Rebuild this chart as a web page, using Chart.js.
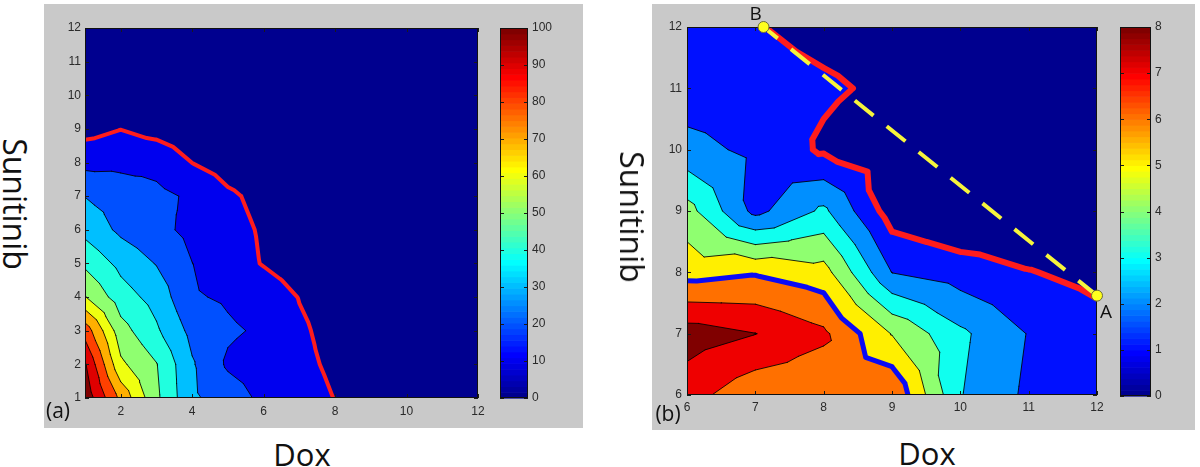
<!DOCTYPE html>
<html>
<head>
<meta charset="utf-8">
<script src="https://cdn.jsdelivr.net/npm/chart.js@4.4.1/dist/chart.umd.min.js"></script>
<style>
body { margin: 0; background: #fff; }
#fig { position: relative; width: 1200px; height: 467px; overflow: hidden; font-family: "Open Sans", sans-serif; }
.panel { position: absolute; background: #c9c9c9; }
canvas { position: absolute; }
.lbl { position: absolute; white-space: nowrap; color: #111; line-height: 1; transform: translate(-50%, -50%); }
.rot { transform: translate(-50%, -50%) rotate(90deg); }
</style>
</head>
<body>
<div id="fig">
  <div class="panel" style="left:44px;top:4px;width:539px;height:424px"></div>
  <div class="panel" style="left:652px;top:4px;width:543px;height:426px"></div>
  <canvas id="plotA" width="450" height="424" style="left:44px;top:4px"></canvas>
  <canvas id="barA" width="85" height="424" style="left:494px;top:4px"></canvas>
  <canvas id="plotB" width="460" height="426" style="left:652px;top:4px"></canvas>
  <canvas id="barB" width="83" height="426" style="left:1112px;top:4px"></canvas>

  <div class="lbl rot" style="left:15px;top:204px;font-size:32px">Sunitinib</div>
  <div class="lbl" style="left:302px;top:454px;font-size:31px">Dox</div>
  <div class="lbl" style="left:58px;top:410px;font-size:21px">(a)</div>
  <div class="lbl rot" style="left:632px;top:217px;font-size:32px">Sunitinib</div>
  <div class="lbl" style="left:927px;top:453px;font-size:31px">Dox</div>
  <div class="lbl" style="left:668px;top:413px;font-size:21px">(b)</div>
</div>

<script>
// ---- panel (a): Dox 1..12 vs Sunitinib 1..12, response in %
const doxA = [1, 2, 3, 4, 5, 6, 7, 8, 9, 10, 11, 12];
const sunA = [1, 2, 3, 4, 5, 6, 7, 8, 9, 10, 11, 12];
// one row per Sunitinib value (1 at the top of the list), one column per Dox value
const respA = [
  [107, 77.5, 52, 31.5, 25.5, 17.5, 13.5, 9.8, 6, 4, 3, 2],
  [101, 62, 50.5, 31, 18.5, 15, 12, 8.5, 5.5, 4, 3, 2],
  [86, 54, 41.5, 27, 21.5, 18.5, 11.3, 7.3, 5, 3.5, 2.5, 2],
  [60.5, 44.5, 36.3, 21, 18.7, 15, 9.7, 6.5, 4.5, 3, 2.5, 2],
  [48, 37.2, 29.5, 20.1, 14, 9.5, 6, 4.5, 3.5, 2.5, 2, 1.5],
  [37, 27.9, 22.7, 17.5, 13, 9, 6, 4.5, 3, 2.5, 2, 1.5],
  [29.8, 26, 22.5, 18.5, 11.5, 7.5, 5, 3.5, 2.5, 2, 1.5, 1],
  [17, 17.3, 16.8, 9.9, 6, 4, 3, 2.5, 2, 1.5, 1, 1],
  [6.7, 9.8, 6.8, 4.5, 3.5, 3, 2.5, 2, 1.5, 1.5, 1, 1],
  [4, 4.5, 4, 3, 2.5, 2, 1.5, 1.5, 1, 1, 1, 1],
  [3, 3, 3, 2.5, 2, 1.5, 1.5, 1, 1, 1, 1, 1],
  [2, 2, 2, 2, 1.5, 1.5, 1, 1, 1, 1, 1, 1]
];
const levelsA = [0, 10, 20, 30, 40, 50, 60, 70, 80, 90, 100];
const xTicksA = [2, 4, 6, 8, 10, 12];
const yTicksA = [1, 2, 3, 4, 5, 6, 7, 8, 9, 10, 11, 12];
const cbTicksA = [0, 10, 20, 30, 40, 50, 60, 70, 80, 90, 100];

// ---- panel (b): Dox 6..12 vs Sunitinib 6..12
const doxB = [6, 7, 8, 9, 10, 11, 12];
const sunB = [6, 7, 8, 9, 10, 11, 12];
const respB = [
  [7.4, 6.3, 6.2, 6.9, 3.05, 1.8, 1.3],
  [8.5, 8.02, 7.2, 4.95, 3.2, 1.95, 1.4],
  [5.6, 5.9, 5.4, 1.98, 1.5, 1.05, 0.7],
  [4.4, 1.7, 3.2, 0.5, 0, 0, 0],
  [2.3, 1.8, 0.85, 0.4, 0, 0, 0],
  [1.5, 1.4, 1.15, 0.8, 0, 0, 0],
  [1.2, 1.05, 0.7, 0.5, 0, 0, 0]
];
const levelsB = [0, 1, 2, 3, 4, 5, 6, 7, 8];
const xTicksB = [6, 7, 8, 9, 10, 11, 12];
const yTicksB = [6, 7, 8, 9, 10, 11, 12];
const cbTicksB = [0, 1, 2, 3, 4, 5, 6, 7, 8];

// points A and B and the straight path between them
const abDox = [12, 7.12];
const abSun = [7.62, 12];
const abNames = ["A", "B"];

const tickFont = { family: "Liberation Sans", size: 12 };
const tickColor = "#2a2a2a";

// matlab jet(64), i = 1..64
function jet64(i) {
  const c = v => Math.max(0, Math.min(1, v));
  const r = c(Math.min((i - 24) / 16, (72 - i) / 16));
  const g = c(Math.min((i - 8) / 16, (56 - i) / 16));
  const b = c(Math.min((i + 8) / 16, (40 - i) / 16));
  return "rgb(" + Math.round(r * 255) + "," + Math.round(g * 255) + "," + Math.round(b * 255) + ")";
}
function colorFor(v, cmin, cmax) {
  const i = Math.min(64, Math.max(1, Math.floor((v - cmin) / (cmax - cmin) * 64) + 1));
  return jet64(i);
}

function triangles(xs, ys, z) {
  const out = [];
  for (let j = 0; j < ys.length - 1; j++) {
    for (let i = 0; i < xs.length - 1; i++) {
      const p = [
        { x: xs[i], y: ys[j], z: z[j][i] },
        { x: xs[i + 1], y: ys[j], z: z[j][i + 1] },
        { x: xs[i + 1], y: ys[j + 1], z: z[j + 1][i + 1] },
        { x: xs[i], y: ys[j + 1], z: z[j + 1][i] }
      ];
      const c = { x: (xs[i] + xs[i + 1]) / 2, y: (ys[j] + ys[j + 1]) / 2,
                  z: (p[0].z + p[1].z + p[2].z + p[3].z) / 4 };
      for (let k = 0; k < 4; k++) out.push([c, p[k], p[(k + 1) % 4]]);
    }
  }
  return out;
}

function lerp(a, b, L) {
  const t = (L - a.z) / (b.z - a.z);
  return { x: a.x + t * (b.x - a.x), y: a.y + t * (b.y - a.y), z: L };
}

function clipAbove(poly, L) {
  const out = [];
  for (let k = 0; k < poly.length; k++) {
    const a = poly[k], b = poly[(k + 1) % poly.length];
    const ina = a.z >= L, inb = b.z >= L;
    if (ina) out.push(a);
    if (ina !== inb) out.push(lerp(a, b, L));
  }
  return out;
}

function crossing(tri, L) {
  const pts = [];
  for (let k = 0; k < 3; k++) {
    const a = tri[k], b = tri[(k + 1) % 3];
    if ((a.z >= L) !== (b.z >= L)) pts.push(lerp(a, b, L));
  }
  return pts.length === 2 ? pts : null;
}

function drawInwardTicks(ctx, area, xs, ys, sx, sy) {
  ctx.strokeStyle = "#1a1a1a";
  ctx.lineWidth = 1;
  ctx.beginPath();
  xs.forEach(v => {
    const px = Math.round(sx.getPixelForValue(v)) + 0.5;
    ctx.moveTo(px, area.bottom); ctx.lineTo(px, area.bottom - 4);
    ctx.moveTo(px, area.top); ctx.lineTo(px, area.top + 4);
  });
  ys.forEach(v => {
    const py = Math.round(sy.getPixelForValue(v)) + 0.5;
    ctx.moveTo(area.left, py); ctx.lineTo(area.left + 4, py);
    ctx.moveTo(area.right, py); ctx.lineTo(area.right - 4, py);
  });
  ctx.stroke();
}

function contourPlugin(spec) {
  const tris = triangles(spec.xs, spec.ys, spec.z);
  return {
    id: "contour",
    beforeDatasetsDraw(chart) {
      const { ctx, chartArea: a, scales: { x, y } } = chart;
      const px = p => x.getPixelForValue(p.x);
      const py = p => y.getPixelForValue(p.y);
      ctx.save();
      ctx.beginPath();
      ctx.rect(a.left, a.top, a.width, a.height);
      ctx.clip();
      spec.levels.forEach(L => {
        ctx.beginPath();
        tris.forEach(t => {
          const poly = clipAbove(t, L);
          if (poly.length < 3) return;
          poly.forEach((p, i) => i ? ctx.lineTo(px(p), py(p)) : ctx.moveTo(px(p), py(p)));
          ctx.closePath();
        });
        ctx.fillStyle = colorFor(L, spec.cmin, spec.cmax);
        ctx.fill();
      });
      ctx.lineCap = "round";
      ctx.lineJoin = "round";
      spec.lines.forEach(ln => {
        ctx.beginPath();
        tris.forEach(t => {
          const s = crossing(t, ln.level);
          if (!s) return;
          ctx.moveTo(px(s[0]), py(s[0]));
          ctx.lineTo(px(s[1]), py(s[1]));
        });
        ctx.strokeStyle = ln.color;
        ctx.lineWidth = ln.width;
        ctx.stroke();
      });
      ctx.restore();
      ctx.save();
      drawInwardTicks(ctx, a, spec.xTicks, spec.yTicks, x, y);
      ctx.strokeStyle = "#111";
      ctx.lineWidth = 1;
      ctx.strokeRect(Math.round(a.left) + 0.5, Math.round(a.top) + 0.5,
                     Math.round(a.width) - 1, Math.round(a.height) - 1);
      ctx.restore();
    }
  };
}

function colorbarPlugin(cmin, cmax, ticks) {
  return {
    id: "colorbar",
    beforeDatasetsDraw(chart) {
      const { ctx, chartArea: a, scales: { y } } = chart;
      ctx.save();
      for (let i = 1; i <= 64; i++) {
        const y0 = y.getPixelForValue(cmin + (i - 1) * (cmax - cmin) / 64);
        const y1 = y.getPixelForValue(cmin + i * (cmax - cmin) / 64);
        ctx.fillStyle = jet64(i);
        ctx.fillRect(a.left, y1, a.width, y0 - y1 + 0.6);
      }
      drawInwardTicks(ctx, a, [], ticks, null, y);
      ctx.strokeStyle = "#111";
      ctx.lineWidth = 1;
      ctx.strokeRect(Math.round(a.left) + 0.5, Math.round(a.top) + 0.5,
                     Math.round(a.width) - 1, Math.round(a.height) - 1);
      ctx.restore();
    }
  };
}

function plotOptions(o) {
  return {
    responsive: false,
    animation: false,
    devicePixelRatio: 1,
    layout: { padding: { left: 0, top: o.padTop, right: o.padRight, bottom: 0 } },
    plugins: { legend: { display: false }, tooltip: { enabled: false } },
    scales: {
      x: {
        type: "linear", min: o.xMin, max: o.xMax,
        grid: { display: false, drawTicks: false }, border: { display: false },
        ticks: { autoSkip: false, maxRotation: 0, padding: o.xPad, color: tickColor, font: tickFont },
        afterBuildTicks: s => { s.ticks = o.xTicks.map(v => ({ value: v })); },
        afterFit: s => { s.height = o.xAxisH; }
      },
      y: {
        type: "linear", min: o.yMin, max: o.yMax,
        grid: { display: false, drawTicks: false }, border: { display: false },
        ticks: { autoSkip: false, padding: o.yPad, color: tickColor, font: tickFont },
        afterBuildTicks: s => { s.ticks = o.yTicks.map(v => ({ value: v })); },
        afterFit: s => { s.width = o.yAxisW; }
      }
    }
  };
}

function barOptions(o) {
  return {
    responsive: false,
    animation: false,
    devicePixelRatio: 1,
    layout: { padding: { left: o.padLeft, top: o.padTop, right: 0, bottom: o.padBottom } },
    plugins: { legend: { display: false }, tooltip: { enabled: false } },
    scales: {
      x: { type: "linear", display: false, min: 0, max: 1 },
      y: {
        type: "linear", position: "right", min: o.min, max: o.max,
        grid: { display: false, drawTicks: false }, border: { display: false },
        ticks: { autoSkip: false, padding: 4, color: tickColor, font: tickFont },
        afterBuildTicks: s => { s.ticks = o.ticks.map(v => ({ value: v })); },
        afterFit: s => { s.width = o.axisW; }
      }
    }
  };
}

// ---- (a)
new Chart(document.getElementById("plotA"), {
  type: "scatter",
  data: { datasets: [] },
  options: plotOptions({ padTop: 24, padRight: 16, xMin: 1, xMax: 12, yMin: 1, yMax: 12,
    xTicks: xTicksA, yTicks: yTicksA, xPad: 6, yPad: 4, xAxisH: 30, yAxisW: 41 }),
  plugins: [contourPlugin({
    xs: doxA, ys: sunA, z: respA, levels: levelsA, cmin: 0, cmax: 100,
    xTicks: xTicksA, yTicks: yTicksA,
    lines: [20, 30, 40, 50, 60, 70, 80, 90, 100].map(l => ({ level: l, color: "rgba(0,0,0,0.85)", width: 1 }))
      .concat([{ level: 10, color: "#ff1c1c", width: 4 }])
  })]
});

new Chart(document.getElementById("barA"), {
  type: "scatter",
  data: { datasets: [] },
  options: barOptions({ padLeft: 6, padTop: 24, padBottom: 30, min: 0, max: 100, ticks: cbTicksA, axisW: 51 }),
  plugins: [colorbarPlugin(0, 100, cbTicksA)]
});

// ---- (b)
const labelShift = [[9, 17], [-8, -12]];
const pointLabels = {
  id: "pointLabels",
  afterDatasetsDraw(chart) {
    const meta = chart.getDatasetMeta(1);
    const ctx = chart.ctx;
    ctx.save();
    ctx.font = '19px "Open Sans"';
    ctx.fillStyle = "#111";
    ctx.textAlign = "center";
    ctx.textBaseline = "middle";
    meta.data.forEach((pt, i) => ctx.fillText(abNames[i], pt.x + labelShift[i][0], pt.y + labelShift[i][1]));
    ctx.restore();
  }
};

const abPoints = abDox.map((d, i) => ({ x: d, y: abSun[i] }));

new Chart(document.getElementById("plotB"), {
  type: "scatter",
  data: {
    datasets: [
      { data: abPoints, showLine: true, borderColor: "#f6f43c", borderWidth: 4,
        borderDash: [24, 17], pointRadius: 0, order: 2 },
      { data: abPoints, showLine: false, pointRadius: 5.5, pointBackgroundColor: "#ffff1e",
        pointBorderColor: "#6a6a3a", pointBorderWidth: 1, clip: false, order: 1 }
    ]
  },
  options: plotOptions({ padTop: 23, padRight: 15, xMin: 6, xMax: 12, yMin: 6, yMax: 12,
    xTicks: xTicksB, yTicks: yTicksB, xPad: 5, yPad: 5, xAxisH: 35, yAxisW: 35 }),
  plugins: [contourPlugin({
    xs: doxB, ys: sunB, z: respB, levels: levelsB, cmin: 0, cmax: 8,
    xTicks: xTicksB, yTicks: yTicksB,
    lines: [2, 3, 4, 5, 7, 8].map(l => ({ level: l, color: "rgba(0,0,0,0.85)", width: 1 }))
      .concat([{ level: 1, color: "#ff1c1c", width: 6 }, { level: 6, color: "#0a0af5", width: 5 }])
  }), pointLabels]
});

new Chart(document.getElementById("barB"), {
  type: "scatter",
  data: { datasets: [] },
  options: barOptions({ padLeft: 8, padTop: 23, padBottom: 34, min: 0, max: 8, ticks: cbTicksB, axisW: 44 }),
  plugins: [colorbarPlugin(0, 8, cbTicksB)]
});
</script>
</body>
</html>
